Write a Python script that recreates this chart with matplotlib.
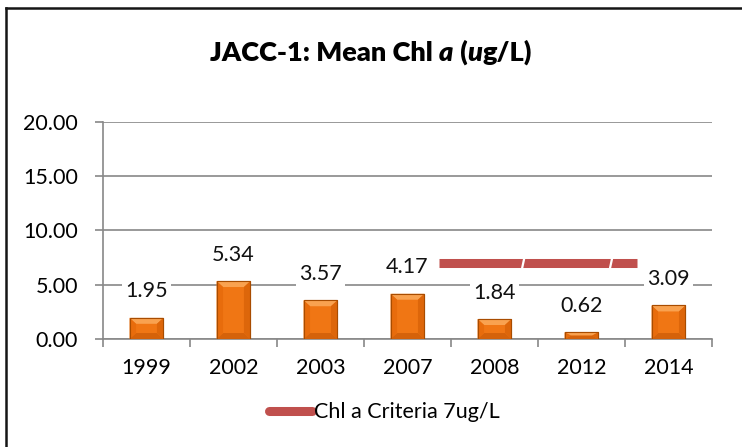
import numpy as np
import matplotlib.pyplot as plt
from matplotlib.lines import Line2D
from matplotlib.patches import Polygon
from matplotlib.offsetbox import TextArea, HPacker, AnnotationBbox

plt.rcParams['font.family'] = ['Lato', 'DejaVu Sans']

# data
years = ['1999', '2002', '2003', '2007', '2008', '2012', '2014']
mean_chl = [1.95, 5.34, 3.57, 4.17, 1.84, 0.62, 3.09]
criteria = 7.0
criteria_span = [3.36, 5.64]      # where the criteria line sits along the category axis
criteria_breaks = [4.33, 5.34]    # the little white slashes in the line
y_ticks = [0, 5, 10, 15, 20]

grey = '#888888'
orange = '#F07614'
red = '#C0504D'

fig = plt.figure(figsize=(7.42, 4.47), dpi=100)
ax = fig.add_axes([0.1388, 0.2416, 0.8208, 0.4855])

x = np.arange(len(years))
w = 0.39
bars = ax.bar(x, mean_chl, width=w, color=orange, edgecolor='#B55500',
              linewidth=0.8, zorder=3)

# fake bevel on each bar
bx, by = 0.075, 0.55
for xi, h in zip(x, mean_chl):
    l, r = xi - w / 2, xi + w / 2
    b = min(by, h / 2)
    top = Polygon([[l, h], [r, h], [r - bx, h - b], [l + bx, h - b]],
                  closed=True, fc='#F9A250', ec='none', zorder=4)
    bot = Polygon([[l, 0], [r, 0], [r - bx, b], [l + bx, b]],
                  closed=True, fc='#D5620A', ec='none', zorder=4)
    left = Polygon([[l, 0], [l, h], [l + bx, h - b], [l + bx, b]],
                   closed=True, fc='#E86C0C', ec='none', zorder=4)
    right = Polygon([[r, 0], [r, h], [r - bx, h - b], [r - bx, b]],
                    closed=True, fc='#DD660A', ec='none', zorder=4)
    for p in (top, bot, left, right):
        ax.add_patch(p)
    ax.add_patch(Polygon([[l, 0], [r, 0], [r, h], [l, h]], closed=True,
                         fc='none', ec='#A84C00', lw=0.8, zorder=5))

# value labels
for xi, v in zip(x, mean_chl):
    ax.annotate(f'{v:.2f}', (xi, v), xytext=(0, 19), textcoords='offset points',
                ha='center', va='center', fontsize=15.5, color='#111111', zorder=6,
                bbox=dict(boxstyle='square,pad=0.15', fc='white', ec='none'))

# criteria line
ax.plot(criteria_span, [criteria, criteria], color=red, lw=6.5,
        solid_capstyle='butt', zorder=5)
for gx in criteria_breaks:
    ax.plot([gx - 0.012, gx + 0.012], [criteria - 0.45, criteria + 0.45],
            color='white', lw=1.6, zorder=6)

ax.set_ylim(0, 20)
ax.set_xlim(-0.5, len(years) - 0.5)
ax.set_yticks(y_ticks)
ax.set_yticklabels([f'{t:.2f}' for t in y_ticks])
ax.yaxis.grid(True, color=grey, lw=1.2, zorder=0)
ax.set_axisbelow(True)

ax.set_xticks(np.arange(-0.5, len(years), 1))
ax.set_xticklabels([])
ax.set_xticks(x, minor=True)
ax.set_xticklabels(years, minor=True)
ax.tick_params(axis='x', which='major', length=6, color=grey, width=1.2)
ax.tick_params(axis='x', which='minor', length=0, pad=14, labelsize=15.5)
ax.tick_params(axis='y', length=6, color=grey, width=1.2, pad=12, labelsize=15.5)

for s in ['top', 'right']:
    ax.spines[s].set_visible(False)
for s in ['left', 'bottom']:
    ax.spines[s].set_color(grey)
    ax.spines[s].set_linewidth(1.2)

# title with italic bits
parts = [('JACC-1: Mean Chl ', 'normal'), ('a', 'italic'), (' (', 'normal'),
         ('u', 'italic'), ('g/L)', 'normal')]
boxes = [TextArea(t, textprops=dict(fontsize=19.5, fontweight='heavy', style=st,
                                    color='#000000'))
         for t, st in parts]
title = HPacker(children=boxes, align='baseline', pad=0, sep=0)
fig.add_artist(AnnotationBbox(title, (0.5, 0.882), xycoords='figure fraction',
                              frameon=False, box_alignment=(0.5, 0.5)))

# legend
handle = Line2D([], [], color=red, lw=6.5, solid_capstyle='round')
fig.legend([handle], ['Chl a Criteria 7ug/L'], loc='center',
           bbox_to_anchor=(0.518, 0.078), frameon=False, fontsize=15.5,
           handlelength=2.0, handletextpad=0.1)

# chart border (top and left only visible)
fig.add_artist(Line2D([5.5 / 742, 1], [1 - 7.5 / 447] * 2, color='#151515',
                      lw=1.8, transform=fig.transFigure))
fig.add_artist(Line2D([5.5 / 742] * 2, [0, 1 - 7.5 / 447], color='#151515',
                      lw=1.8, transform=fig.transFigure))

fig.savefig('out.png', dpi=100)
